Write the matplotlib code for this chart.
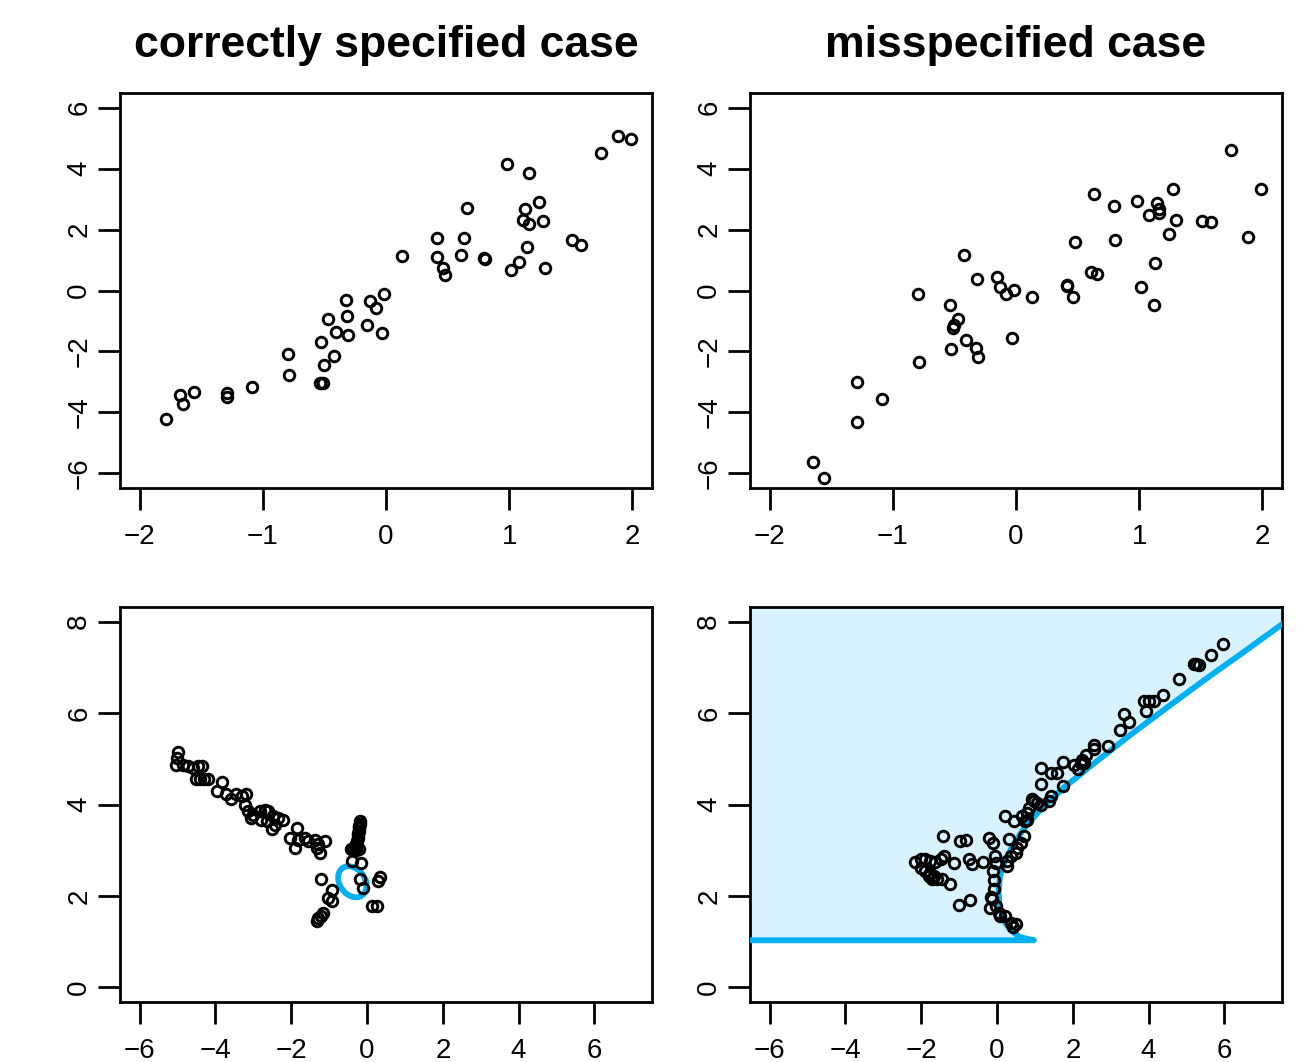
import numpy as np
import matplotlib
matplotlib.use("Agg")
import matplotlib.pyplot as plt

plt.rcParams['font.family'] = ['Liberation Sans', 'DejaVu Sans']

# ---------------- data ----------------
titles = ["correctly specified case", "misspecified case"]

# top-left: correctly specified
x_top_correct = [-1.786, -1.672, -1.649, -1.558, -1.292, -1.292, -1.090, -0.793, -0.790, -0.539,
                 -0.511, -0.528, -0.505, -0.422, -0.474, -0.402, -0.322, -0.314, -0.311, -0.154,
                 -0.128, -0.083, -0.029, -0.014, 0.126, 0.411, 0.417, 0.465, 0.479, 0.613,
                 0.636, 0.659, 0.796, 0.800, 0.979, 1.016, 1.084, 1.141, 1.110, 1.127,
                 1.164, 1.158, 1.241, 1.278, 1.295, 1.509, 1.586, 1.749, 1.883, 1.989]
y_top_correct = [-4.23, -3.42, -3.74, -3.33, -3.35, -3.51, -3.16, -2.09, -2.78, -3.05,
                 -3.04, -1.69, -2.44, -2.14, -0.95, -1.37, -0.31, -0.85, -1.45, -1.12,
                 -0.34, -0.56, -1.41, -0.10, 1.14, 1.73, 1.11, 0.75, 0.52, 1.17,
                 1.73, 2.70, 1.06, 1.04, 4.14, 0.67, 0.94, 1.44, 2.31, 2.66,
                 2.17, 3.86, 2.92, 2.28, 0.75, 1.67, 1.48, 4.51, 5.08, 4.98]

# top-right: misspecified
x_top_miss = [-1.649, -1.558, -1.292, -1.292, -1.090, -0.793, -0.790, -0.536, -0.528, -0.474,
              -0.505, -0.510, -0.422, -0.402, -0.322, -0.311, -0.314, -0.154, -0.128, -0.083,
              -0.014, -0.029, 0.126, 0.411, 0.417, 0.465, 0.479, 0.613, 0.659, 0.636,
              0.796, 0.800, 0.979, 1.016, 1.084, 1.141, 1.164, 1.160, 1.130, 1.118,
              1.278, 1.298, 1.241, 1.509, 1.586, 1.749, 1.883, 1.989]
y_top_miss = [-5.63, -6.16, -3.01, -4.33, -3.55, -0.12, -2.36, -0.47, -1.93, -0.95,
              -1.12, -1.22, 1.16, -1.61, -1.90, -2.18, 0.39, 0.45, 0.10, -0.13,
              0.02, -1.55, -0.20, 0.18, 0.15, -0.22, 1.58, 0.60, 0.55, 3.15,
              2.77, 1.67, 2.93, 0.12, 2.48, 2.87, 2.68, 2.54, 0.91, -0.47,
              3.34, 2.31, 1.86, 2.29, 2.26, 4.61, 1.74, 3.32]

# bottom-left: estimates, correctly specified
x_bot_correct = [-4.99, -5.02, -5.03, -4.86, -4.73, -4.60, -4.46, -4.35, -4.51, -4.40,
                 -4.29, -4.20, -3.84, -3.96, -3.71, -3.58, -3.45, -3.31, -3.20, -3.23,
                 -3.14, -3.01, -3.05, -2.83, -2.70, -2.61, -2.48, -2.35, -2.21, -2.79,
                 -2.65, -2.52, -2.43, -1.86, -2.04, -1.82, -1.64, -1.55, -1.90, -1.38,
                 -1.29, -1.11, -1.24, -1.33,
                 -0.18, -0.19, -0.20, -0.21, -0.22, -0.23, -0.24, -0.25, -0.26, -0.28,
                 -0.30, -0.38, -0.42, -0.22, -0.30,
                 -0.40, -0.17, -1.22, -0.93, -1.02, -0.93, -1.16, -1.29, -1.33, -1.22,
                 -0.19, -0.10, 0.34, 0.30, 0.12, 0.26]
y_bot_correct = [5.14, 5.02, 4.87, 4.87, 4.84, 4.80, 4.85, 4.85, 4.56, 4.56,
                 4.56, 4.56, 4.50, 4.29, 4.22, 4.12, 4.22, 4.18, 4.22, 4.00,
                 3.85, 3.78, 3.71, 3.85, 3.89, 3.85, 3.74, 3.71, 3.67, 3.67,
                 3.63, 3.47, 3.56, 3.49, 3.27, 3.23, 3.27, 3.20, 3.05, 3.23,
                 3.13, 3.20, 2.94, 3.05,
                 3.63, 3.58, 3.53, 3.48, 3.43, 3.38, 3.33, 3.27, 3.21, 3.14,
                 3.08, 3.02, 3.03, 3.02, 3.00,
                 2.76, 2.73, 2.36, 2.14, 1.96, 1.89, 1.63, 1.52, 1.45, 1.57,
                 2.36, 2.18, 2.42, 2.32, 1.78, 1.79]

# confidence ellipse (bottom-left): centre, half-widths, top lean
ellipse_center = (-0.39, 2.31)
ellipse_half_x = 0.36
ellipse_half_y = 0.34
ellipse_lean = -0.10

# bottom-right: estimates, misspecified
x_bot_miss = [-1.42, -0.97, -0.81, -0.22, -0.10, 0.31, 0.22, 0.44, 0.67, 0.75,
              0.71, 0.62, 0.53, 0.49, 0.36, 0.27, 0.27,
              -2.16, -2.02, -1.89, -1.76, -1.63, -1.49, -1.41, -1.14, -2.02, -1.89,
              -1.76, -1.67, -1.71, -1.58, -1.45, -1.23, -1.80,
              -0.75, -0.66, -0.37, -0.06, -0.04, -0.10, -0.07, -0.07, -0.17, -0.13,
              -1.01, -0.72, -0.19, -0.04, 0.05, 0.09, 0.22, 0.36, 0.43, 0.49,
              2.56, 2.56, 2.92, 2.34, 2.25, 2.21, 2.14, 2.30, 2.03, 1.75,
              1.17, 1.42, 1.59, 1.15, 1.75, 0.93, 1.42, 1.37, 1.15, 1.06,
              0.84, 0.80, 0.80, 0.97,
              5.96, 5.65, 5.25, 5.34, 5.21, 4.79, 4.37, 3.88, 4.00, 4.13,
              3.93, 3.35, 3.49, 3.24]
y_bot_miss = [3.32, 3.20, 3.23, 3.27, 3.16, 3.25, 3.74, 3.64, 3.74, 3.64,
              3.31, 3.16, 3.05, 2.94, 2.87, 2.76, 2.65,
              2.74, 2.80, 2.80, 2.76, 2.74, 2.80, 2.87, 2.73, 2.62, 2.54,
              2.51, 2.43, 2.36, 2.36, 2.36, 2.27, 2.43,
              2.80, 2.69, 2.75, 2.87, 2.73, 2.54, 2.35, 2.16, 1.98, 1.94,
              1.81, 1.91, 1.74, 1.79, 1.63, 1.56, 1.57, 1.41, 1.33, 1.38,
              5.31, 5.22, 5.27, 5.09, 4.98, 4.90, 4.78, 4.91, 4.87, 4.92,
              4.80, 4.69, 4.68, 4.44, 4.40, 4.12, 4.18, 4.07, 4.00, 4.04,
              3.93, 3.82, 3.67, 4.07,
              7.50, 7.28, 7.08, 7.06, 7.08, 6.75, 6.39, 6.26, 6.26, 6.26,
              6.05, 5.97, 5.80, 5.64]

# boundary of the region (bottom-right)
boundary_x = [7.60, 6.50, 5.50, 4.50, 3.50, 2.50, 1.75, 1.20, 0.75, 0.45,
              0.22, 0.08, 0.04, 0.07, 0.18, 0.36, 0.60, 0.97, -7.0]
boundary_y = [7.99, 7.33, 6.74, 6.13, 5.51, 4.86, 4.36, 3.94, 3.52, 3.15,
              2.80, 2.45, 2.10, 1.75, 1.45, 1.25, 1.10, 1.03, 1.03]

top_xticks = [-2, -1, 0, 1, 2]
top_yticks = [-6, -4, -2, 0, 2, 4, 6]
bot_xticks = [-6, -4, -2, 0, 2, 4, 6]
bot_yticks = [0, 2, 4, 6, 8]

BLUE = '#00B0F0'
FILL = '#D8F3FD'

# ---------------- figure ----------------
W, H = 1308, 1062
fig = plt.figure(figsize=(W / 100, H / 100), dpi=100)

def px_axes(x0, y0, x1, y1):
    return fig.add_axes([x0 / W, 1 - y1 / H, (x1 - x0) / W, (y1 - y0) / H])

ax_tl = px_axes(120, 93, 652, 488)
ax_tr = px_axes(750, 93, 1282, 488)
ax_bl = px_axes(120, 607, 652, 1002)
ax_br = px_axes(750, 607, 1282, 1002)

def r_range(a, b):
    d = (b - a) * 0.04
    return a - d, b + d

def style(ax, xt, yt, xr, yr):
    ax.set_xlim(*r_range(*xr))
    ax.set_ylim(*r_range(*yr))
    ax.set_xticks(xt)
    ax.set_yticks(yt)
    ax.set_xticklabels([f"{v}".replace('-', '\u2212') for v in xt])
    ax.set_yticklabels([f"{v}".replace('-', '\u2212') for v in yt], rotation=90, va='center')
    for s in ax.spines.values():
        s.set_linewidth(2.0)
        s.set_color('black')
    ax.tick_params(direction='out', length=16, width=2.0, labelsize=20)
    ax.tick_params(axis='x', pad=10)
    ax.tick_params(axis='y', pad=4)

mk = dict(linestyle='none', marker='o', markersize=7.6, markerfacecolor='none',
          markeredgecolor='black', markeredgewidth=2.1, zorder=5)

ax_tl.plot(x_top_correct, y_top_correct, **mk)
ax_tr.plot(x_top_miss, y_top_miss, **mk)
style(ax_tl, top_xticks, top_yticks, (-2, 2), (-6, 6))
style(ax_tr, top_xticks, top_yticks, (-2, 2), (-6, 6))

# bottom-left
t = np.linspace(0, 2 * np.pi, 200)
ex = ellipse_center[0] + ellipse_half_x * np.cos(t) + ellipse_lean * np.sin(t)
ey = ellipse_center[1] + ellipse_half_y * np.sin(t)
ax_bl.plot(ex, ey, color=BLUE, lw=4.2, zorder=4)
ax_bl.plot(x_bot_correct, y_bot_correct, **mk)
style(ax_bl, bot_xticks, bot_yticks, (-6, 7), (0, 8))

# bottom-right
poly_x = list(boundary_x) + [-7.0, 8.0]
poly_y = list(boundary_y) + [9.0, 9.0]
ax_br.fill(poly_x, poly_y, color=FILL, lw=0, zorder=1)
ax_br.plot(boundary_x, boundary_y, color=BLUE, lw=4.2, solid_capstyle='round', zorder=3)
ax_br.plot(x_bot_miss, y_bot_miss, **mk)
style(ax_br, bot_xticks, bot_yticks, (-6, 7), (0, 8))

for ax, ttl in zip([ax_tl, ax_tr], titles):
    ax.set_title(ttl, fontsize=32, fontweight='bold', pad=26)

fig.savefig('out.png', dpi=100)
